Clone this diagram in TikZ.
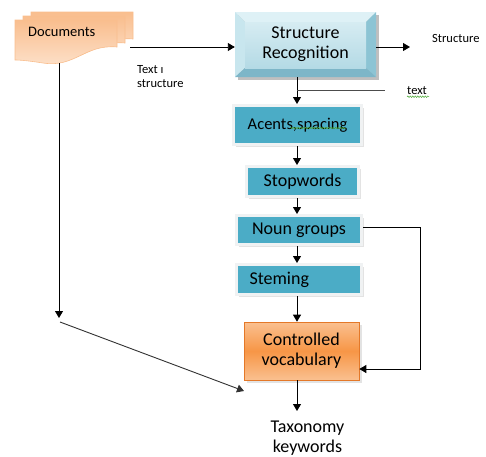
\documentclass[tikz,border=0pt]{standalone}
\usepackage{fontspec}
\setmainfont{Carlito}
\usetikzlibrary{arrows.meta,shadows,calc,decorations.pathmorphing}
\definecolor{teal5}{RGB}{75,172,198}
\definecolor{boxedge}{RGB}{240,242,243}
\definecolor{peach}{RGB}{249,190,142}
\definecolor{peachlt}{RGB}{253,226,204}
\definecolor{orange6}{RGB}{247,150,70}
\definecolor{orangelt}{RGB}{250,192,144}
\definecolor{orangedk}{RGB}{228,120,40}
\definecolor{srface}{RGB}{214,236,242}
\definecolor{srface2}{RGB}{180,218,229}
\definecolor{srtop}{RGB}{222,241,246}
\definecolor{srleft}{RGB}{200,230,238}
\definecolor{srright}{RGB}{140,196,212}
\definecolor{srbot}{RGB}{125,182,200}
\definecolor{squig}{RGB}{80,170,60}
\begin{document}
\begin{tikzpicture}[x=1pt,y=-1pt,
  arr/.style={draw=black, line width=0.9pt, -{Triangle[width=8pt,length=7pt]}},
  plain/.style={draw=black, line width=0.9pt},
  tealbox/.style={fill=teal5, draw=boxedge, line width=3pt,
     drop shadow={shadow xshift=2.5pt, shadow yshift=-2.5pt, fill=black!22},
     inner sep=0pt, font=\fontsize{18}{20}\selectfont},
  small/.style={font=\fontsize{12.5}{14}\selectfont, inner sep=0pt},
  sheet/.style={draw=peach, line width=0.6pt, top color=peach, bottom color=peachlt}
]
\useasboundingbox (0,0) rectangle (486,456);

% ---- Documents (stacked sheets)
\foreach \dx/\dy in {16/-8, 8/-4, 0/0}{
  \path[sheet, shift={(15+\dx,20+\dy)}]
    (0,0) -- (102,0) -- (102,27)
    .. controls (70,24) and (60,48) .. (28,43)
    .. controls (15,41) and (6,40) .. (0,40) -- cycle;
}
\node[font=\fontsize{14.5}{16}\selectfont, anchor=west, inner sep=0pt] (docs) at (28,32) {Documents};
\coordinate (docR) at (130,47);
\coordinate (docB) at (59,63);

% ---- Structure Recognition (bevel)
\fill[black!25] (238,15) rectangle (379,80);
\fill[srtop] (235,12) -- (376,12) -- (366,22) -- (245,22) -- cycle;
\fill[srleft] (235,12) -- (245,22) -- (245,68) -- (235,77) -- cycle;
\fill[srright] (376,12) -- (366,22) -- (366,68) -- (376,77) -- cycle;
\fill[srbot] (235,77) -- (376,77) -- (366,68) -- (245,68) -- cycle;
\shade[top color=srface, bottom color=srface2] (245,22) rectangle (366,68);
\node[minimum width=141pt, minimum height=65pt, inner sep=0pt, align=center,
      font=\fontsize{18}{20}\selectfont] (sr) at (305.5,44.5) {Structure\\Recognition};

\coordinate (axis) at (297,0);

% ---- teal steps
\node[tealbox, minimum width=128pt, minimum height=39pt, font=\fontsize{16.5}{18}\selectfont,
      text depth=3pt] (ac) at (297.5,125) {Acents,spacing\vphantom{A}};
\node[tealbox, minimum width=112pt, minimum height=30pt] (sw) at (302.5,181.5) {Stopwords};
\node[tealbox, minimum width=125pt, minimum height=29pt] (ng) at (299,230) {Noun groups};
\node[tealbox, minimum width=125pt, minimum height=30pt, text width=99pt, align=left,
      inner xsep=13pt] (st) at (299,279.5) {Steming};

% ---- Controlled vocabulary
\node[draw=orangedk, line width=0.6pt, top color=orangelt, bottom color=orangelt, middle color=orange6,
      drop shadow={shadow xshift=2.5pt, shadow yshift=-2.5pt, fill=black!22},
      minimum width=115pt, minimum height=58pt, inner sep=0pt, align=center,
      font=\fontsize{18}{20}\selectfont] (cv) at (301.5,351) {Controlled\\vocabulary};

% ---- output text
\node[align=center, inner sep=0pt, font=\fontsize{18}{20}\selectfont] (tax) at (307.5,438) {Taxonomy\\keywords};

% ---- labels
\node[small, anchor=west, align=left] (ts) at (137,77) {Text ı\\structure};
\node[small, anchor=west] (sl) at (432,38) {Structure};
\node[small, anchor=west] (tl) at (407,91) {text};
\draw[squig, line width=0.5pt, decorate, decoration={snake, amplitude=0.8pt, segment length=2.5pt}]
  (tl.south west) ++(0,1.5) -- ++(22,0);
\draw[squig, line width=0.5pt, decorate, decoration={snake, amplitude=0.8pt, segment length=2.5pt}]
  (290,128) -- (346,128);

% ---- connectors
\coordinate (srOut) at (410,47);
\coordinate (textA) at (297,90);
\coordinate (textB) at (385,90);
\coordinate (bend) at (59,318);
\coordinate (bend2) at (60,322);
\coordinate (diagEnd) at (244,391);
\coordinate (kw) at (297,411);

\draw[arr] (docR) -- (docR -| sr.west);
\draw[arr] (sr.east |- docR) -- (srOut);
\draw[arr] (axis |- sr.south) -- (axis |- ac.north);
\draw[draw=black!70, line width=0.9pt] (textA) -- (textB);
\draw[arr] (axis |- ac.south) -- (axis |- sw.north);
\draw[arr] (axis |- sw.south) -- (axis |- ng.north);
\draw[arr] (axis |- ng.south) -- (axis |- st.north);
\draw[arr] (axis |- st.south) -- (axis |- cv.north);
\draw[arr] (axis |- cv.south) -- (kw);
\draw[arr] ([yshift=3pt]ng.east) -- ++(57,0) |- ([yshift=-18pt]cv.east);
\draw[arr] (docB) -- (bend);
\draw[arr, draw=black!80] (bend2) -- (diagEnd);
\end{tikzpicture}
\end{document}
